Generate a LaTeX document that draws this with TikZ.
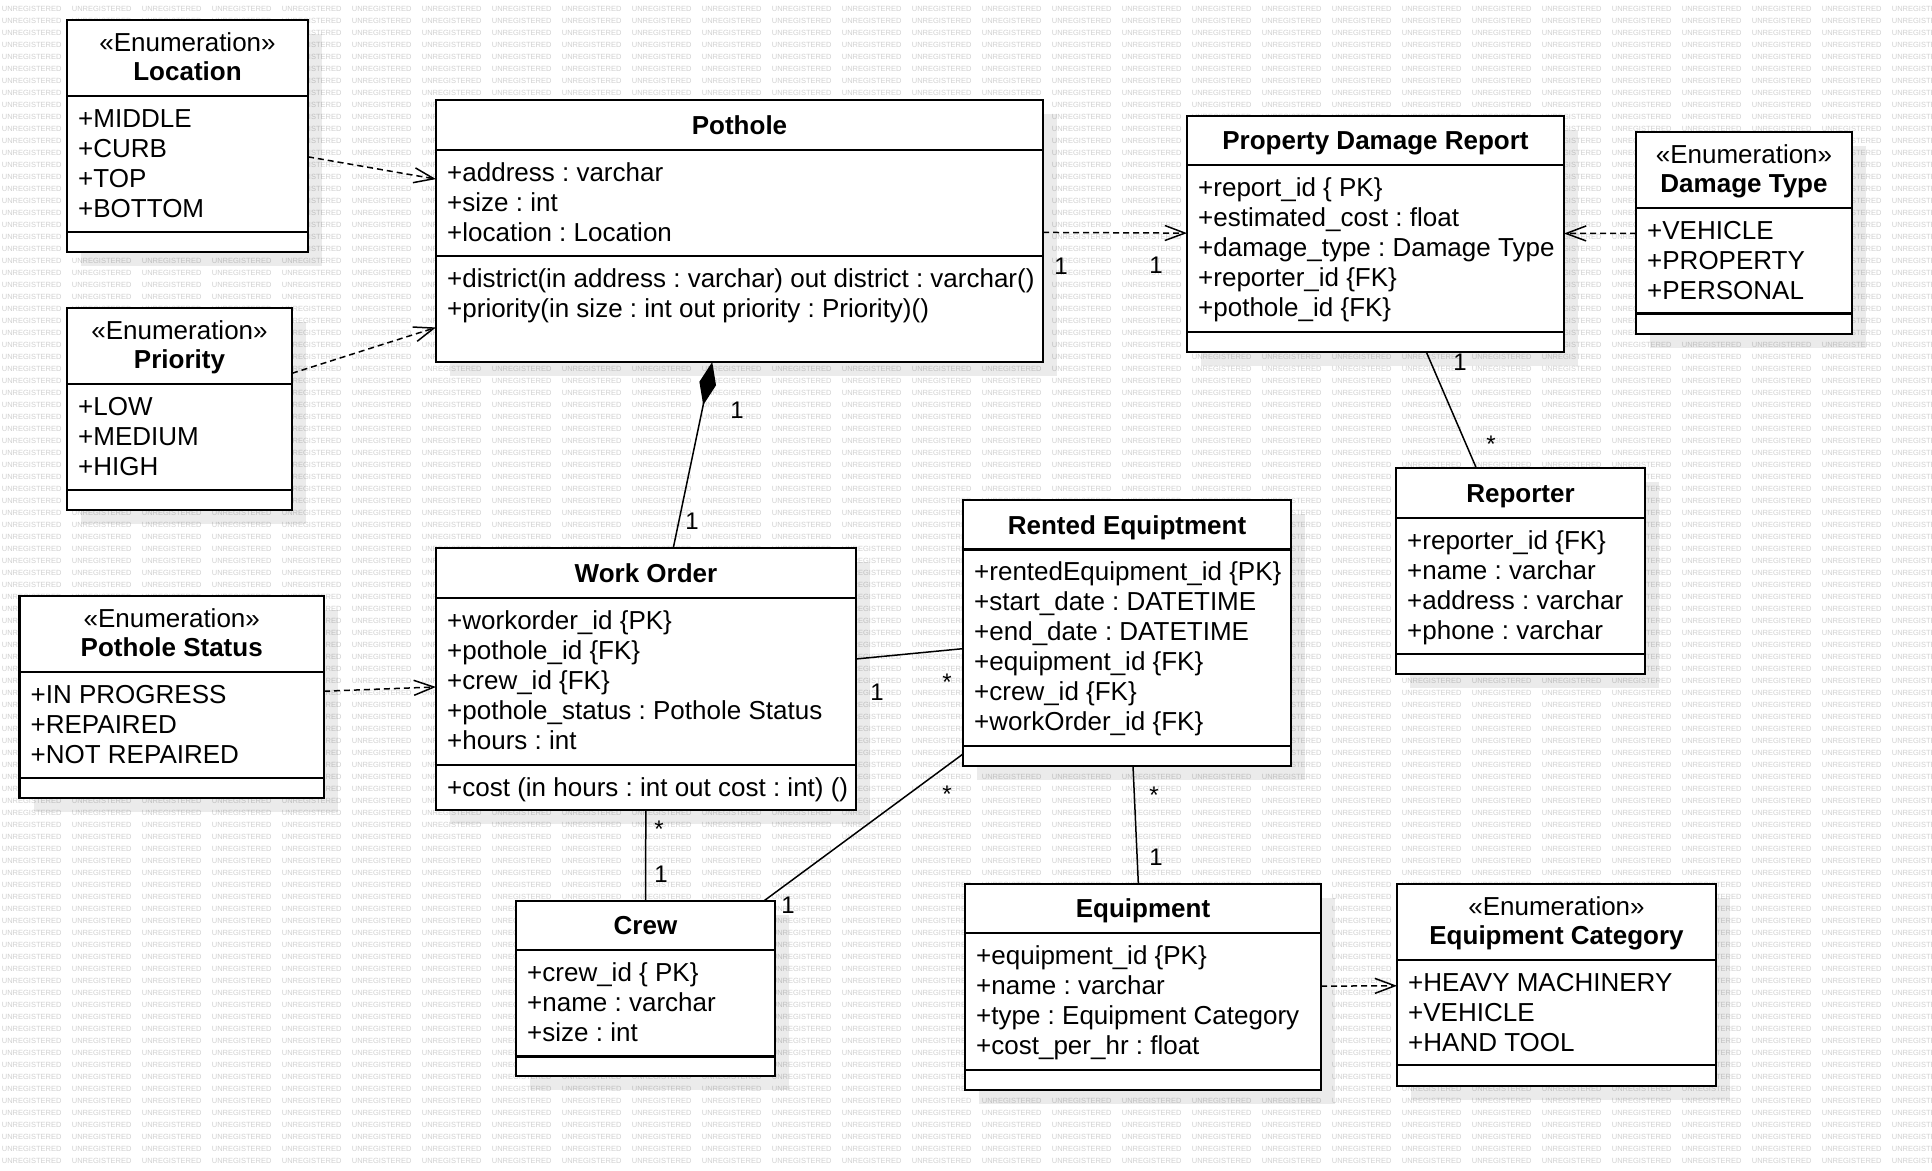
\documentclass[tikz,border=0pt]{standalone}
\usepackage{fontspec}
\setmainfont{Liberation Sans}
\usetikzlibrary{arrows.meta,calc}
\frenchspacing

% one row of the tiled background stamp
\newcount\wmcount
\newcommand\wmrow{\wmcount=0 \loop\makebox[70pt][l]{UNREGISTERED}\advance\wmcount by 1 \ifnum\wmcount<28 \repeat}

% class frame: name, left, top, right, bottom, header separator, attribute separator
\newcommand\classbox[7]{%
  \fill[shadowfill] ({#2+14},{#3+14}) rectangle ({#4+14},{#5+14});
  \node[classframe, minimum width={#4-#2}, minimum height={#5-#3}, anchor=north west] (#1) at (#2,#3) {};
  \draw[classline] (#2,#6) -- (#4,#6);
  \draw[classline] (#2,#7) -- (#4,#7);
  \gdef\cbname{#1}\gdef\cbleft{#2}\gdef\cbtop{#3}\gdef\cbright{#4}\gdef\cbsepa{#6}\gdef\cbsepb{#7}%
}
\newcommand\plainhead[1]{%
  \node[nametext, anchor=base] (\cbname-name) at ({(\cbleft+\cbright)/2}, {(\cbtop+\cbsepa)/2+9.3}) {#1};}
\newcommand\enumhead[1]{%
  \node[stereotext, anchor=base] (\cbname-stereo) at ({(\cbleft+\cbright)/2}, {(\cbtop+\cbsepa)/2-6.7}) {«Enumeration»};
  \node[nametext, anchor=base] (\cbname-name) at ({(\cbleft+\cbright)/2}, {(\cbtop+\cbsepa)/2+22.3}) {#1};}
\newcommand\attrs[1]{%
  \foreach \t [count=\i] in {#1}
    \node[membertext, anchor=base west] (\cbname-a\i) at (\cbleft+11, {\cbsepa+31+30*(\i-1)}) {\t};}
\newcommand\ops[1]{%
  \foreach \t [count=\i] in {#1}
    \node[membertext, anchor=base west] (\cbname-o\i) at (\cbleft+11, {\cbsepb+31+30*(\i-1)}) {\t};}
\newcommand\mult[4]{\node[multtext, anchor=base] (#1) at (#2,#3) {#4};}

\tikzset{
  classframe/.style={draw=black, line width=2.2pt, fill=white, rectangle, inner sep=0pt, outer sep=0pt},
  classline/.style={draw=black, line width=2.2pt},
  shadowfill/.style={fill=black, fill opacity=0.08},
  membertext/.style={inner sep=0pt, font=\fontsize{26}{30}\selectfont},
  nametext/.style={inner sep=0pt, font=\fontsize{26}{30}\selectfont\bfseries},
  stereotext/.style={inner sep=0pt, font=\fontsize{26}{30}\selectfont},
  multtext/.style={inner sep=0pt, font=\fontsize{24}{28}\selectfont},
  watermark/.style={inner sep=0pt, text=black!18, font=\fontsize{7.5}{9}\selectfont},
  depline/.style={draw=black, line width=1.5pt, dash pattern=on 6pt off 4pt,
    -{Straight Barb[length=20pt,width=15pt]}},
  assoc/.style={draw=black, line width=1.5pt},
  comp/.style={draw=black, line width=1.5pt, -{Diamond[length=44pt,width=17pt]}},
}

\begin{document}
\begin{tikzpicture}[x=1pt, y=-1pt]
  \fill[white] (0,0) rectangle (1932,1170);
  \useasboundingbox (0,0) rectangle (1932,1170);

  % background stamp
  \begin{scope}
    \clip (0,0) rectangle (1932,1170);
    \foreach \r in {0,...,96}
      \node[watermark, anchor=base west] (wm-\r) at (1.7, {11.5+12*\r}) {\wmrow};
  \end{scope}

  % enumerations and classes
  \classbox{location}{67}{20}{308}{252}{96}{232}
  \enumhead{Location}
  \attrs{+MIDDLE, +CURB, +TOP, +BOTTOM}

  \classbox{priority}{67}{308}{292}{510}{384}{490}
  \enumhead{Priority}
  \attrs{+LOW, +MEDIUM, +HIGH}

  \classbox{pothole}{436}{100}{1043}{362}{150}{256}
  \plainhead{Pothole}
  \attrs{+address : varchar, +size : int, +location : Location}
  \ops{+district(in address : varchar) out district : varchar(), +priority(in size : int out priority : Priority)()}

  \classbox{pdr}{1187}{116}{1564}{352}{165}{332}
  \plainhead{Property Damage Report}
  \attrs{+report\_id \{ PK\}, +estimated\_cost : float, +damage\_type : Damage Type, +reporter\_id \{FK\}, +pothole\_id \{FK\}}

  \classbox{damagetype}{1636}{132}{1852}{334}{208}{313.5}
  \enumhead{Damage Type}
  \attrs{+VEHICLE, +PROPERTY, +PERSONAL}

  \classbox{reporter}{1396}{468}{1645}{674}{518}{654}
  \plainhead{Reporter}
  \attrs{+reporter\_id \{FK\}, +name : varchar, +address : varchar, +phone : varchar}

  \classbox{workorder}{436}{548}{856}{810}{598}{765}
  \plainhead{Work Order}
  \attrs{+workorder\_id \{PK\}, +pothole\_id \{FK\}, +crew\_id \{FK\}, +pothole\_status : Pothole Status, +hours : int}
  \ops{+cost (in hours : int out cost : int) ()}

  \classbox{status}{19.5}{596}{324}{798}{672}{778}
  \enumhead{Pothole Status}
  \attrs{+IN PROGRESS, +REPAIRED, +NOT REPAIRED}

  \classbox{rented}{963}{500}{1291}{766}{549.5}{746}
  \plainhead{Rented Equiptment}
  \attrs{+rentedEquipment\_id \{PK\}, +start\_date : DATETIME, +end\_date : DATETIME, +equipment\_id \{FK\}, +crew\_id \{FK\}, +workOrder\_id \{FK\}}

  \classbox{crew}{516}{901}{775}{1076}{950}{1056.5}
  \plainhead{Crew}
  \attrs{+crew\_id \{ PK\}, +name : varchar, +size : int}

  \classbox{equipment}{965}{884}{1321}{1090}{933}{1070}
  \plainhead{Equipment}
  \attrs{+equipment\_id \{PK\}, +name : varchar, +type : Equipment Category, +cost\_per\_hr : float}

  \classbox{category}{1397}{884}{1716}{1086}{960}{1065}
  \enumhead{Equipment Category}
  \attrs{+HEAVY MACHINERY, +VEHICLE, +HAND TOOL}

  % dependencies
  \draw[depline] (location) -- (pothole);
  \draw[depline] (priority) -- (pothole);
  \draw[depline] (pothole) -- (pdr);
  \draw[depline] (damagetype) -- (pdr);
  \draw[depline] (status) -- (workorder);
  \draw[depline] (equipment) -- (category);

  % associations
  \draw[comp] (workorder) -- (pothole);
  \draw[assoc] (pdr) -- (reporter);
  \draw[assoc] (workorder) -- (rented);
  \draw[assoc] (workorder) -- (crew);
  \draw[assoc] (crew) -- (rented);
  \draw[assoc] (rented) -- (equipment);

  % multiplicities
  \mult{m-pot-pdr-a}{1061}{274.6}{1}
  \mult{m-pot-pdr-b}{1156}{273.6}{1}
  \mult{m-pot-wo-a}{737}{418.6}{1}
  \mult{m-pot-wo-b}{692}{529.6}{1}
  \mult{m-pdr-rep-a}{1460}{370.6}{1}
  \mult{m-pdr-rep-b}{1491}{452.9}{*}
  \mult{m-wo-re-a}{877}{700.6}{1}
  \mult{m-wo-re-b}{947}{690.9}{*}
  \mult{m-wo-crew-a}{659}{837.9}{*}
  \mult{m-wo-crew-b}{661}{882.6}{1}
  \mult{m-crew-re-a}{788}{913.6}{1}
  \mult{m-crew-re-b}{947}{802.9}{*}
  \mult{m-re-eq-a}{1154}{803.9}{*}
  \mult{m-re-eq-b}{1156}{865.6}{1}
\end{tikzpicture}
\end{document}
